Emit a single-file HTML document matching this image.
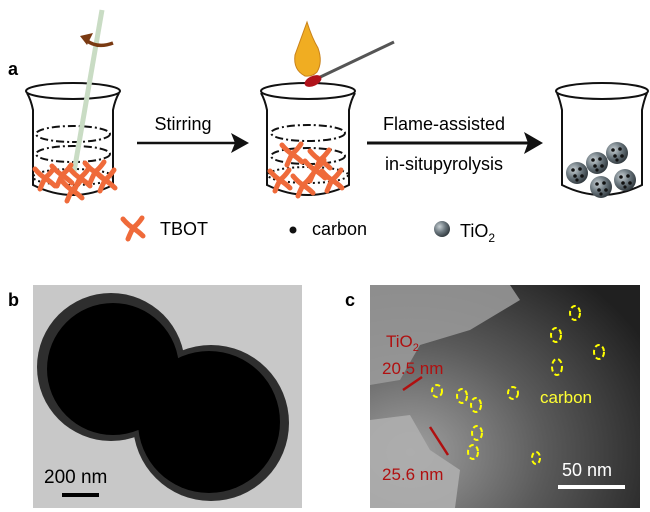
<!DOCTYPE html>
<html><head><meta charset="utf-8"><style>
html,body{margin:0;padding:0;background:#fff;}
svg{display:block;font-family:"Liberation Sans",Arial,sans-serif;}
</style></head><body>
<svg width="650" height="512" viewBox="0 0 650 512" xmlns="http://www.w3.org/2000/svg">
<defs>
<radialGradient id="sph" cx="0.35" cy="0.35" r="0.7"><stop offset="0" stop-color="#c8d0d4"/><stop offset="0.5" stop-color="#6f7b82"/><stop offset="1" stop-color="#2f373c"/></radialGradient>
<radialGradient id="cbg" cx="0.15" cy="0.75" r="1"><stop offset="0" stop-color="#a0a0a0"/><stop offset="0.5" stop-color="#5a5a5a"/><stop offset="1" stop-color="#202020"/></radialGradient>
<g id="tb"><path d="M0,0 Q-5,-3 -10,-9 M0,0 Q5,-4 9,-10 M0,0 Q6,4 10,8 M0,0 Q-3,6 -5,11" stroke="#ef6a3a" stroke-width="5" stroke-linecap="round" fill="none"/></g>
<g id="ti"><circle r="11" fill="url(#sph)"/><circle cx="-4" cy="-3" r="1.8" fill="#111"/><circle cx="3" cy="-4" r="1.8" fill="#111"/><circle cx="-2" cy="3" r="1.8" fill="#111"/><circle cx="5" cy="3" r="1.8" fill="#111"/><circle cx="0" cy="7" r="1.6" fill="#111"/></g>
</defs>
<text x="8" y="75" font-size="18" font-weight="bold">a</text>
<g fill="none" stroke="#111" stroke-width="2">
<ellipse cx="73" cy="91" rx="47" ry="8"/>
<path d="M27,93 Q31,100 33,110 L33,185 Q73,205 113,185 L113,110 Q115,100 119,93"/>
<ellipse cx="73" cy="134" rx="37" ry="8" stroke-dasharray="8,3,2,3"/>
<ellipse cx="73" cy="154" rx="37" ry="8" stroke-dasharray="8,3,2,3"/>
<ellipse cx="73" cy="177" rx="40" ry="8" stroke-dasharray="2,3"/>
</g>
<line x1="102" y1="10" x2="74" y2="172" stroke="#c9dcc4" stroke-width="5"/>
<path d="M86,40 Q97,49 113,43" stroke="#7a3a12" stroke-width="3.5" fill="none"/><path d="M80,36 L93,33 L87,45Z" fill="#7a3a12"/>
<use href="#tb" x="45" y="178"/><use href="#tb" x="62" y="175"/><use href="#tb" x="80" y="178"/><use href="#tb" x="95" y="172"/><use href="#tb" x="105" y="180"/><use href="#tb" x="72" y="190"/>
<line x1="137" y1="143" x2="236" y2="143" stroke="#111" stroke-width="2.5"/><path d="M249,143 L231,133 L235,143 L231,153Z" fill="#111"/>
<text x="183" y="130" font-size="18" text-anchor="middle">Stirring</text>
<g fill="none" stroke="#111" stroke-width="2">
<ellipse cx="308" cy="91" rx="47" ry="8"/>
<path d="M261,93 Q265,100 267,110 L267,185 Q308,205 349,185 L349,110 Q351,100 355,93"/>
<ellipse cx="308" cy="133" rx="37" ry="8" stroke-dasharray="8,3,2,3"/>
<ellipse cx="308" cy="156" rx="37" ry="8" stroke-dasharray="8,3,2,3"/>
<ellipse cx="308" cy="175" rx="40" ry="8" stroke-dasharray="2,3"/>
</g>
<use href="#tb" x="292" y="154"/><use href="#tb" x="320" y="160"/><use href="#tb" x="280" y="180"/><use href="#tb" x="303" y="185"/><use href="#tb" x="332" y="180"/><use href="#tb" x="315" y="170"/>
<line x1="394" y1="42" x2="314" y2="80" stroke="#555" stroke-width="3"/>
<ellipse cx="313" cy="81" rx="9" ry="5" transform="rotate(-25 313 81)" fill="#b0131b"/>
<path d="M305,76 Q293,70 295,55 Q299,44 307,22 Q312,38 318,48 Q323,62 317,72 Q312,77 305,76Z" fill="#f0ad22" stroke="#c9821a"/>
<line x1="367" y1="143" x2="528" y2="143" stroke="#111" stroke-width="3"/><path d="M543,143 L524,132 L528,143 L524,154Z" fill="#111"/>
<text x="444" y="130" font-size="18" text-anchor="middle">Flame-assisted</text>
<text x="444" y="170" font-size="18" text-anchor="middle">in-situpyrolysis</text>
<g fill="none" stroke="#111" stroke-width="2">
<ellipse cx="602" cy="91" rx="46" ry="8"/>
<path d="M557,93 Q560,100 562,110 L562,185 Q602,205 642,185 L642,110 Q644,100 647,93"/>
</g>
<use href="#ti" x="577" y="173"/><use href="#ti" x="597" y="163"/><use href="#ti" x="617" y="153"/><use href="#ti" x="601" y="187"/><use href="#ti" x="625" y="180"/>
<use href="#tb" x="133" y="228"/><text x="160" y="235" font-size="18">TBOT</text>
<circle cx="293" cy="230" r="3.5" fill="#111"/><text x="312" y="235" font-size="18">carbon</text>
<circle cx="442" cy="229" r="8" fill="url(#sph)"/><text x="460" y="237" font-size="18">TiO<tspan font-size="12" dy="5">2</tspan></text>
<text x="8" y="306" font-size="18" font-weight="bold">b</text>
<rect x="33" y="285" width="269" height="223" fill="#c8c8c8"/>
<circle cx="111" cy="367" r="74" fill="#2e2e2e"/><circle cx="211" cy="423" r="78" fill="#2e2e2e"/>
<circle cx="113" cy="369" r="66" fill="#000"/><circle cx="209" cy="422" r="71" fill="#000"/>
<text x="44" y="483" font-size="19">200 nm</text>
<rect x="62" y="493" width="37" height="4" fill="#000"/>
<text x="345" y="306" font-size="18" font-weight="bold">c</text>
<rect x="370" y="285" width="270" height="223" fill="url(#cbg)"/>
<path d="M370,285 L510,285 L520,300 L470,330 L420,345 L400,380 L370,385Z" fill="#9c9c9c" opacity="0.85"/>
<path d="M370,420 L410,415 L430,450 L460,470 L455,508 L370,508Z" fill="#aeaeae" opacity="0.9"/>
<text x="386" y="347" font-size="17" fill="#b01010">TiO<tspan font-size="11" dy="4">2</tspan></text>
<text x="382" y="374" font-size="17" fill="#b01010">20.5 nm</text>
<line x1="403" y1="390" x2="422" y2="377" stroke="#b01010" stroke-width="2.5"/>
<line x1="430" y1="427" x2="448" y2="455" stroke="#b01010" stroke-width="2.5"/>
<text x="382" y="480" font-size="17" fill="#b01010">25.6 nm</text>
<text x="540" y="403" font-size="17" fill="#ffff33">carbon</text>
<g fill="none" stroke="#ffff00" stroke-width="2" stroke-dasharray="5,3">
<ellipse cx="575" cy="313" rx="5" ry="7"/><ellipse cx="556" cy="335" rx="5" ry="7"/><ellipse cx="599" cy="352" rx="5" ry="7"/>
<ellipse cx="557" cy="367" rx="5" ry="8"/><ellipse cx="437" cy="391" rx="5" ry="6"/><ellipse cx="462" cy="396" rx="5" ry="7"/>
<ellipse cx="476" cy="405" rx="5" ry="7"/><ellipse cx="513" cy="393" rx="5" ry="6"/><ellipse cx="477" cy="433" rx="5" ry="7"/>
<ellipse cx="473" cy="452" rx="5" ry="7"/><ellipse cx="536" cy="458" rx="4" ry="6"/>
</g>
<text x="562" y="476" font-size="18" fill="#fff">50 nm</text>
<rect x="558" y="485" width="67" height="4" fill="#fff"/>
</svg>
</body></html>
